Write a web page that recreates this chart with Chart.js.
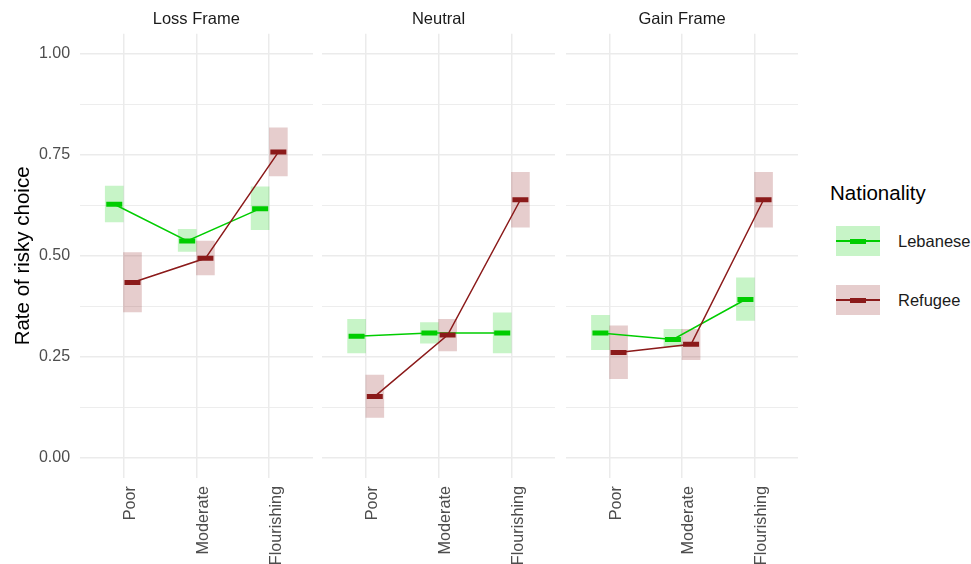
<!DOCTYPE html>
<html>
<head>
<meta charset="utf-8">
<script src="https://cdn.jsdelivr.net/npm/chart.js@4.4.1/dist/chart.umd.min.js"></script>
<style>
  html, body { margin: 0; padding: 0; background: #ffffff; }
  body { width: 971px; height: 564px; position: relative; overflow: hidden;
         font-family: "Liberation Sans", Arial, sans-serif; }
  canvas { position: absolute; top: 0; }
  .legend-title { position: absolute; left: 830px; top: 181px; font-size: 20.5px; color: #000; line-height: 24px; }
  .key { position: absolute; left: 836px; width: 44px; height: 30px; }
  .key .line { position: absolute; left: 0; right: 0; top: 14px; height: 1.5px; }
  .key .mean { position: absolute; left: 14px; width: 16px; top: 12.5px; height: 5px; }
  .key-label { position: absolute; left: 898px; font-size: 16.5px; color: #1a1a1a; line-height: 20px; }
</style>
</head>
<body>
<canvas id="p0" width="313" height="564" style="left:0px;width:313px;height:564px"></canvas>
<canvas id="p1" width="233" height="564" style="left:322.3px;width:233px;height:564px"></canvas>
<canvas id="p2" width="232" height="564" style="left:565.8px;width:232px;height:564px"></canvas>

<div class="legend-title">Nationality</div>
<div class="key" style="top:226px;background:rgba(0,205,0,0.22)">
  <div class="line" style="background:#00cd00"></div>
  <div class="mean" style="background:#00cd00"></div>
</div>
<div class="key-label" style="top:231px">Lebanese</div>
<div class="key" style="top:285px;background:rgba(139,26,26,0.22)">
  <div class="line" style="background:#8b1a1a"></div>
  <div class="mean" style="background:#8b1a1a"></div>
</div>
<div class="key-label" style="top:290px">Refugee</div>

<script>
// Facets, categories and per-facet estimates (mean with lower/upper interval bounds)
const frames = ['Loss Frame', 'Neutral', 'Gain Frame'];
const categories = ['Poor', 'Moderate', 'Flourishing'];
const yTicks = [0, 0.125, 0.25, 0.375, 0.5, 0.625, 0.75, 0.875, 1];

const lebaneseMean = [[0.628, 0.537, 0.617], [0.301, 0.309, 0.309], [0.309, 0.293, 0.392]];
const lebaneseLow  = [[0.584, 0.511, 0.565], [0.260, 0.284, 0.260], [0.268, 0.276, 0.340]];
const lebaneseHigh = [[0.673, 0.566, 0.671], [0.343, 0.335, 0.359], [0.353, 0.318, 0.446]];

const refugeeMean = [[0.434, 0.494, 0.757], [0.152, 0.304, 0.639], [0.261, 0.281, 0.639]];
const refugeeLow  = [[0.361, 0.453, 0.698], [0.100, 0.265, 0.571], [0.196, 0.243, 0.571]];
const refugeeHigh = [[0.508, 0.537, 0.817], [0.205, 0.343, 0.707], [0.327, 0.318, 0.707]];

const GREEN = '#00cd00', GREEN_FILL = 'rgba(0,205,0,0.22)';
const RED = '#8b1a1a', RED_FILL = 'rgba(139,26,26,0.22)';
const DODGE = 0.125;
const FONT = '"Liberation Sans", Arial, sans-serif';
const GRID = '#ebebeb';

Chart.defaults.font.family = FONT;
Chart.defaults.devicePixelRatio = 1;

function intervals(low, high, shift) {
  return categories.map((c, i) => ({ x: i + 1 + shift, y: [low[i], high[i]] }));
}
function means(m, shift) {
  return categories.map((c, i) => ({ x: i + 1 + shift, y: m[i] }));
}

function buildPanel(k) {
  const first = k === 0;
  const ctx = document.getElementById('p' + k);
  return new Chart(ctx, {
    type: 'bar',
    data: {
      datasets: [
        { type: 'bar', label: 'Lebanese CI', data: intervals(lebaneseLow[k], lebaneseHigh[k], -DODGE),
          backgroundColor: GREEN_FILL, borderWidth: 0, grouped: false, barThickness: 18, order: 3 },
        { type: 'bar', label: 'Refugee CI', data: intervals(refugeeLow[k], refugeeHigh[k], DODGE),
          backgroundColor: RED_FILL, borderWidth: 0, grouped: false, barThickness: 18, order: 2 },
        { type: 'line', label: 'Lebanese', data: means(lebaneseMean[k], -DODGE),
          borderColor: GREEN, borderWidth: 1.5, fill: false, tension: 0,
          pointStyle: 'line', pointRadius: 8, pointBorderWidth: 5, pointBorderColor: GREEN,
          pointBackgroundColor: GREEN, pointHoverRadius: 8, order: 1 },
        { type: 'line', label: 'Refugee', data: means(refugeeMean[k], DODGE),
          borderColor: RED, borderWidth: 1.5, fill: false, tension: 0,
          pointStyle: 'line', pointRadius: 8, pointBorderWidth: 5, pointBorderColor: RED,
          pointBackgroundColor: RED, pointHoverRadius: 8, order: 0 }
      ]
    },
    options: {
      responsive: false,
      animation: false,
      events: [],
      layout: { padding: 0, autoPadding: false },
      plugins: {
        legend: { display: false },
        tooltip: { enabled: false },
        title: {
          display: true, text: frames[k], fullSize: false,
          color: '#1a1a1a', font: { size: 16.5, weight: 'normal' },
          padding: { top: 9.4, bottom: 4.6 }
        }
      },
      scales: {
        x: {
          type: 'linear', min: 0.4, max: 3.6, offset: false,
          afterBuildTicks: s => { s.ticks = categories.map((c, i) => ({ value: i + 1 })); },
          afterFit: s => { s.height = 86; s.paddingLeft = 0; s.paddingRight = 0; },
          border: { display: false },
          grid: { color: GRID, lineWidth: 1.5, drawTicks: false, offset: false },
          ticks: {
            autoSkip: false, minRotation: 90, maxRotation: 90, padding: 8, labelOffset: 7,
            color: '#4d4d4d', font: { size: 16.2 },
            callback: v => categories[Math.round(v) - 1]
          }
        },
        y: {
          type: 'linear', min: -0.05, max: 1.05,
          afterBuildTicks: s => { s.ticks = yTicks.map(v => ({ value: v })); },
          afterFit: s => { s.width = first ? 79.6 : 0; s.paddingTop = 0; s.paddingBottom = 0; },
          border: { display: false },
          grid: {
            color: GRID, drawTicks: false,
            lineWidth: c => (c.index % 2 === 0 ? 1.5 : 0.9)
          },
          title: first ? {
            display: true, text: 'Rate of risky choice', color: '#000000',
            font: { size: 20.5 }, padding: { top: 11.5, bottom: 0 }
          } : { display: false },
          ticks: {
            display: first, autoSkip: false, padding: 9.5,
            color: '#4d4d4d', font: { size: 16 },
            callback: (v, i) => (i % 2 === 0 ? v.toFixed(2) : '')
          }
        }
      }
    }
  });
}

frames.forEach((f, k) => buildPanel(k));
</script>
</body>
</html>
